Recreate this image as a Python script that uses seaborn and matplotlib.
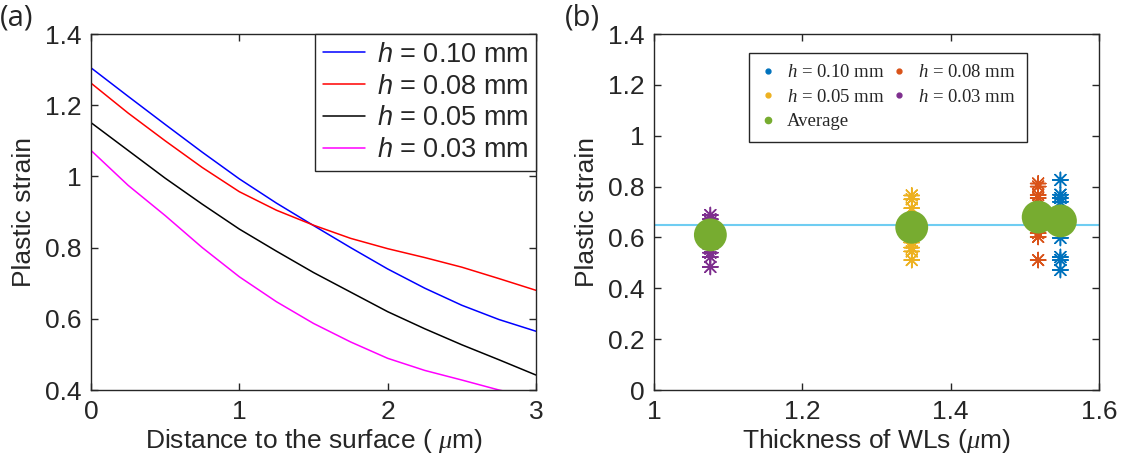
import numpy as np
import pandas as pd
import seaborn as sns
import matplotlib.pyplot as plt
from matplotlib.lines import Line2D
from matplotlib.ticker import FuncFormatter

# (a) plastic strain vs distance to the surface
distance = [0, 0.25, 0.5, 0.75, 1, 1.25, 1.5, 1.75, 2, 2.25, 2.5, 2.75, 3]
strain_010 = [1.305, 1.225, 1.146, 1.068, 0.993, 0.925, 0.862, 0.800, 0.740, 0.686, 0.638, 0.598, 0.565]
strain_008 = [1.262, 1.178, 1.100, 1.025, 0.957, 0.905, 0.863, 0.826, 0.797, 0.772, 0.745, 0.713, 0.680]
strain_005 = [1.151, 1.073, 0.995, 0.922, 0.852, 0.790, 0.730, 0.675, 0.620, 0.572, 0.527, 0.485, 0.442]
strain_003 = [1.073, 0.975, 0.890, 0.800, 0.718, 0.648, 0.587, 0.535, 0.489, 0.455, 0.428, 0.400, 0.378]
curve_labels = ['0.10', '0.08', '0.05', '0.03']
curve_colors = ['#0000ff', '#ff0000', '#000000', '#ff00ff']

# (b) plastic strain vs thickness of WLs
thick_010, pts_010 = 1.548, [0.826, 0.768, 0.755, 0.740, 0.598, 0.523, 0.511, 0.472]
thick_008, pts_008 = 1.518, [0.812, 0.800, 0.767, 0.755, 0.617, 0.602, 0.511]
thick_005, pts_005 = 1.3475, [0.765, 0.750, 0.715, 0.580, 0.560, 0.545, 0.511]
thick_003, pts_003 = 1.076, [0.688, 0.672, 0.660, 0.556, 0.540, 0.523, 0.484]
avg_thick = [1.076, 1.3475, 1.518, 1.548]
avg_strain = [0.610, 0.640, 0.680, 0.665]
overall_avg = 0.648
point_colors = {'0.10': '#0072bd', '0.08': '#d95319', '0.05': '#edb120', '0.03': '#7e2f8e'}
avg_color = '#77ac30'

sns.set_style("ticks")
plt.rcParams['font.family'] = ['Liberation Sans', 'DejaVu Sans']
plt.rcParams['mathtext.fontset'] = 'custom'
plt.rcParams['mathtext.it'] = 'Liberation Serif:italic'
plt.rcParams['mathtext.sf'] = 'Liberation Sans:italic'
plt.rcParams['mathtext.rm'] = 'Liberation Serif'

fig = plt.figure(figsize=(11.26, 4.69), dpi=100)
ax1 = fig.add_axes([91 / 1126, 79 / 469, 445 / 1126, 356 / 469])
ax2 = fig.add_axes([654 / 1126, 79 / 469, 445 / 1126, 356 / 469])

fmt = FuncFormatter(lambda v, p: '%g' % round(v, 2))

#%% panel (a)
curves = [strain_010, strain_008, strain_005, strain_003]
for vals, lab, col in zip(curves, curve_labels, curve_colors):
    sns.lineplot(x=distance, y=vals, color=col, linewidth=1.1, ax=ax1,
                 label=r'$\mathsf{h}$ = ' + lab + ' mm')
ax1.set_xlim(0, 3)
ax1.set_ylim(0.4, 1.4)
ax1.set_xticks([0, 1, 2, 3])
ax1.set_yticks(np.arange(0.4, 1.41, 0.2))
ax1.xaxis.set_major_formatter(fmt)
ax1.yaxis.set_major_formatter(fmt)
ax1.set_xlabel(r'Distance to the surface ( $\mu$m)', fontsize=19)
ax1.set_ylabel('Plastic strain', fontsize=19)
leg1 = ax1.legend(loc='upper right', borderaxespad=0, fontsize=19.5, fancybox=False,
                  edgecolor='#262626', framealpha=1, handlelength=1.55,
                  labelspacing=0.22, borderpad=0.28, handletextpad=0.45)
leg1.get_frame().set_linewidth(1.0)

#%% panel (b)
df_pts = pd.DataFrame({
    'thickness': [thick_010] * len(pts_010) + [thick_008] * len(pts_008)
                 + [thick_005] * len(pts_005) + [thick_003] * len(pts_003),
    'strain': pts_010 + pts_008 + pts_005 + pts_003,
    'h': ['0.10'] * len(pts_010) + ['0.08'] * len(pts_008)
         + ['0.05'] * len(pts_005) + ['0.03'] * len(pts_003),
})
ax2.axhline(overall_avg, color='#6fcdf2', linewidth=1.5, zorder=1)
sns.scatterplot(data=df_pts, x='thickness', y='strain', hue='h', palette=point_colors,
                marker=(8, 2, 0), s=120, linewidth=1.1, legend=False, ax=ax2, zorder=2)
sns.scatterplot(x=avg_thick, y=avg_strain, color=avg_color, s=560, edgecolor='none',
                linewidth=0, ax=ax2, zorder=3)
ax2.set_xlim(1, 1.6)
ax2.set_ylim(0, 1.4)
ax2.set_xticks([1, 1.2, 1.4, 1.6])
ax2.set_yticks(np.arange(0, 1.41, 0.2))
ax2.xaxis.set_major_formatter(fmt)
ax2.yaxis.set_major_formatter(fmt)
ax2.set_xlabel(r'Thickness of WLs ($\mu$m)', fontsize=19)
ax2.set_ylabel('Plastic strain', fontsize=19)

handles = [
    Line2D([], [], linestyle='none', marker='o', markersize=3.5, color=point_colors['0.10']),
    Line2D([], [], linestyle='none', marker='o', markersize=3.5, color=point_colors['0.05']),
    Line2D([], [], linestyle='none', marker='o', markersize=4.5, color=avg_color),
    Line2D([], [], linestyle='none', marker='o', markersize=3.5, color=point_colors['0.08']),
    Line2D([], [], linestyle='none', marker='o', markersize=3.5, color=point_colors['0.03']),
]
labels = [r'$h$ = 0.10 mm', r'$h$ = 0.05 mm', 'Average', r'$h$ = 0.08 mm', r'$h$ = 0.03 mm']
leg2 = ax2.legend(handles, labels, ncol=2, loc='upper left', bbox_to_anchor=(0.2135, 0.947),
                  borderaxespad=0, fancybox=False, edgecolor='#262626', framealpha=1,
                  prop={'family': 'Liberation Serif', 'size': 13.5},
                  handlelength=0.8, handletextpad=0.6, columnspacing=0.4,
                  labelspacing=0.4, borderpad=0.6)
leg2.get_frame().set_linewidth(1.0)

for ax in (ax1, ax2):
    ax.tick_params(direction='in', top=True, right=True, length=5, width=1,
                   labelsize=19, color='#262626', labelcolor='#262626', pad=7)
    for sp in ax.spines.values():
        sp.set_color('#262626')
        sp.set_linewidth(1.0)
    ax.xaxis.label.set_color('#262626')
    ax.yaxis.label.set_color('#262626')
ax1.yaxis.labelpad = 6
ax2.yaxis.labelpad = 6
ax1.xaxis.labelpad = 2
ax2.xaxis.labelpad = 2

fig.text(0.0, 1 - 3 / 469, '(a)', fontsize=21, va='top',
         family=['Open Sans', 'DejaVu Sans'], color='#262626')
fig.text(565 / 1126, 1 - 3 / 469, '(b)', fontsize=21, va='top',
         family=['Open Sans', 'DejaVu Sans'], color='#262626')

fig.savefig('out.png', dpi=100)
